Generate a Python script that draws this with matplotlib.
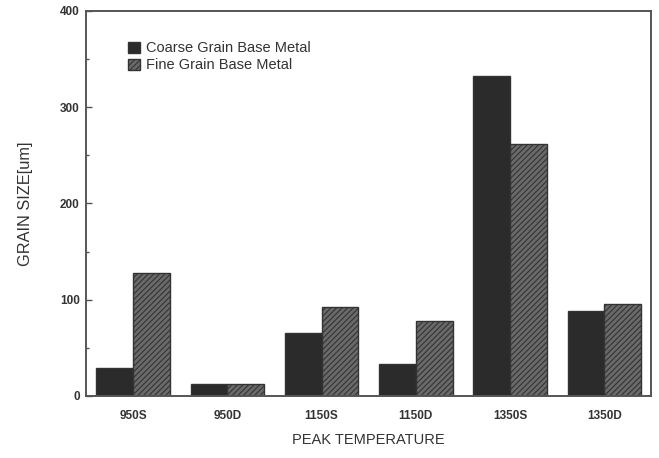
import matplotlib
matplotlib.use("Agg")
import matplotlib.pyplot as plt
import numpy as np

plt.rcParams['font.family'] = ['Liberation Sans', 'DejaVu Sans']
plt.rcParams['hatch.linewidth'] = 0.8
plt.rcParams['hatch.color'] = '#222222'

categories = ["950S", "950D", "1150S", "1150D", "1350S", "1350D"]
coarse = [29, 12, 65, 33, 332, 88]
fine = [128, 12, 92, 78, 262, 96]
series_names = ["Coarse Grain Base Metal", "Fine Grain Base Metal"]

fig = plt.figure(figsize=(6.59, 4.58), dpi=100)
ax = fig.add_axes([0.1305, 0.1354, 0.858, 0.841])

x = np.arange(len(categories))
w = 0.39
ax.bar(x - w/2, coarse, w, color='#2b2b2b', edgecolor='#333333', linewidth=1.0,
       label=series_names[0])
ax.bar(x + w/2, fine, w, color='#6a6a6a', edgecolor='#333333', linewidth=1.0,
       hatch='//////', label=series_names[1])

ax.set_xlim(-0.5, len(categories) - 0.5)
ax.set_ylim(0, 400)
ax.set_yticks([0, 100, 200, 300, 400])
ax.set_yticks([50, 150, 250, 350], minor=True)
ax.set_xticks(x)
ax.set_xticklabels(categories)

for lab in ax.get_xticklabels() + ax.get_yticklabels():
    lab.set_fontweight('bold')
    lab.set_fontsize(8.5)
    lab.set_color('#333333')

ax.tick_params(axis='y', which='major', direction='in', length=4, width=1, color='#555555', pad=4.5)
ax.tick_params(axis='y', which='minor', direction='in', length=2, width=1, color='#555555')
ax.tick_params(axis='x', which='major', length=0, pad=10)

for s in ax.spines.values():
    s.set_color('#555555')
    s.set_linewidth(1.4)

ax.set_ylabel("GRAIN SIZE[um]", fontsize=11.8, color='#333333', labelpad=19)
ax.set_xlabel("PEAK TEMPERATURE", fontsize=10.5, color='#333333', labelpad=8)

leg = ax.legend(loc='upper left', bbox_to_anchor=(0.064, 0.936), frameon=False,
                fontsize=10.5, handlelength=0.8, handleheight=0.8, handletextpad=0.45,
                labelspacing=0.2, borderaxespad=0)
for t in leg.get_texts():
    t.set_color('#333333')

fig.savefig("out.png", dpi=100)
